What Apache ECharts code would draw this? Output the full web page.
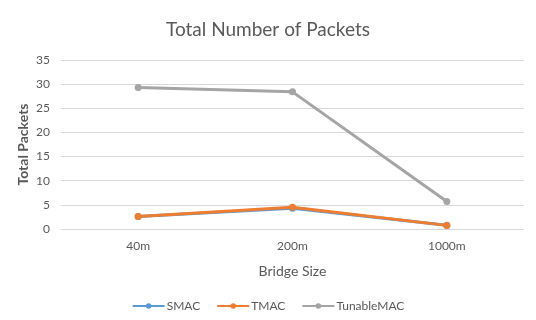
<!DOCTYPE html>
<html>
<head>
<meta charset="utf-8">
<script src="https://cdn.jsdelivr.net/npm/echarts@6/dist/echarts.min.js"></script>
<style>
  html, body { margin: 0; padding: 0; background: #fff; }
  #chart { width: 536px; height: 320px; }
</style>
</head>
<body>
<div id="chart"></div>
<script>
// Packet counts per bridge size for each MAC protocol
const categories = ['40m', '200m', '1000m'];
const smac = [2.6, 4.3, 0.8];
const tmac = [2.6, 4.5, 0.75];
const tunableMac = [29.3, 28.4, 5.7];
const yTicks = [0, 5, 10, 15, 20, 25, 30, 35];

const font = 'Lato, "Open Sans", sans-serif';
const textColor = '#595959';

function lineSeries(name, data, color) {
  return {
    name: name,
    type: 'line',
    data: data,
    symbol: 'circle',
    symbolSize: 7,
    lineStyle: { width: 3, color: color },
    itemStyle: { color: color },
    emphasis: { disabled: true }
  };
}

const chart = echarts.init(document.getElementById('chart'));
chart.setOption({
  animation: false,
  title: {
    text: 'Total Number of Packets',
    left: 'center',
    top: 15,
    textStyle: { fontFamily: font, fontSize: 19, fontWeight: 'normal', color: textColor }
  },
  legend: {
    top: 295,
    left: 'center',
    itemWidth: 32,
    itemHeight: 7,
    itemGap: 16,
    textStyle: { fontFamily: font, fontSize: 12, color: textColor, padding: [0, 0, 0, -3] },
    data: ['SMAC', 'TMAC', 'TunableMAC']
  },
  grid: { left: 61, right: 12, top: 60, bottom: 91 },
  xAxis: {
    type: 'category',
    data: categories,
    name: 'Bridge Size',
    nameLocation: 'middle',
    nameGap: 35,
    nameTextStyle: { fontFamily: font, fontSize: 14, color: textColor },
    axisLine: { show: false },
    axisTick: { show: false },
    axisLabel: { fontFamily: font, fontSize: 12, color: textColor, margin: 11 }
  },
  yAxis: {
    type: 'value',
    min: yTicks[0],
    max: yTicks[yTicks.length - 1],
    interval: yTicks[1] - yTicks[0],
    name: 'Total Packets',
    nameLocation: 'middle',
    nameGap: 31,
    nameMoveOverlap: false,
    nameTextStyle: { fontFamily: font, fontSize: 14, fontWeight: 'bold', color: textColor },
    axisLabel: { fontFamily: font, fontSize: 12, color: textColor, margin: 11 },
    splitLine: { lineStyle: { color: '#d9d9d9', width: 1 } }
  },
  series: [
    lineSeries('SMAC', smac, '#5B9BD5'),
    lineSeries('TMAC', tmac, '#ED7D31'),
    lineSeries('TunableMAC', tunableMac, '#A5A5A5')
  ]
});
</script>
</body>
</html>
